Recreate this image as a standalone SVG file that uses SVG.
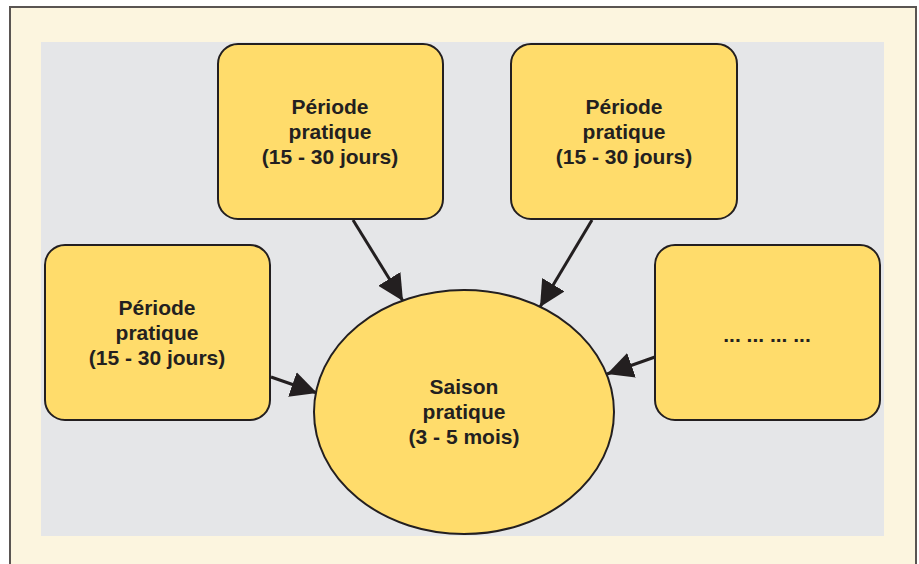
<svg xmlns="http://www.w3.org/2000/svg" width="919" height="564" viewBox="0 0 919 564">
<style>
.box{fill:#ffdc6b;stroke:#231f20;stroke-width:2}
.t{font-family:"Liberation Sans",Arial,sans-serif;font-weight:bold;font-size:21px;fill:#231f20;text-anchor:middle}
.c{stroke:#231f20;stroke-width:3;fill:none;marker-end:url(#ah)}
</style>
<defs>
<marker id="ah" viewBox="0 0 10 10" refX="10" refY="5" markerWidth="26" markerHeight="26" markerUnits="userSpaceOnUse" orient="auto"><path d="M0,0 L10,5 L0,10 Z" fill="#231f20"/></marker>
</defs>
<rect x="10" y="7" width="906" height="570" fill="#fcf5df" stroke="#5a5552" stroke-width="2"/>
<rect x="41" y="42" width="843" height="494" fill="#e5e6e8"/>
<g id="connectors">
<line class="c" x1="353" y1="220" x2="403" y2="301"/>
<line class="c" x1="592" y1="220" x2="540" y2="307"/>
<line class="c" x1="271" y1="377" x2="317" y2="393"/>
<line class="c" x1="655" y1="357" x2="607" y2="374"/>
</g>
<g id="n1">
<rect class="box" x="218" y="44" width="225" height="175" rx="20"/>
<text class="t" x="330" y="114">Période</text>
<text class="t" x="330" y="139">pratique</text>
<text class="t" x="330" y="164">(15 - 30 jours)</text>
</g>
<g id="n2">
<rect class="box" x="511" y="44" width="226" height="175" rx="20"/>
<text class="t" x="624" y="114">Période</text>
<text class="t" x="624" y="139">pratique</text>
<text class="t" x="624" y="164">(15 - 30 jours)</text>
</g>
<g id="n3">
<rect class="box" x="45" y="245" width="225" height="175" rx="20"/>
<text class="t" x="157" y="315">Période</text>
<text class="t" x="157" y="340">pratique</text>
<text class="t" x="157" y="365">(15 - 30 jours)</text>
</g>
<g id="n4">
<rect class="box" x="655" y="245" width="225" height="175" rx="20"/>
<text class="t" x="767" y="342">... ... ... ...</text>
</g>
<g id="n5">
<ellipse class="box" cx="464" cy="412" rx="150" ry="122"/>
<text class="t" x="464" y="394">Saison</text>
<text class="t" x="464" y="419">pratique</text>
<text class="t" x="464" y="444">(3 - 5 mois)</text>
</g>
</svg>
